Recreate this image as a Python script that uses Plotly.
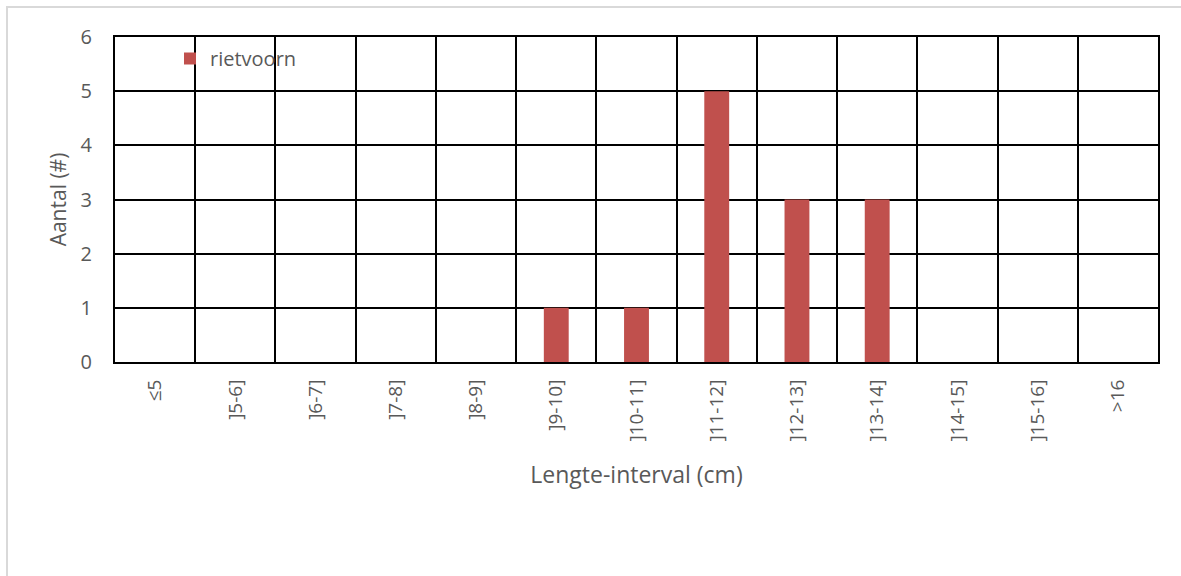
import plotly.graph_objects as go

categories = ["≤5", "]5-6]", "]6-7]", "]7-8]", "]8-9]", "]9-10]", "]10-11]",
              "]11-12]", "]12-13]", "]13-14]", "]14-15]", "]15-16]", ">16"]
rietvoorn = [0, 0, 0, 0, 0, 1, 1, 5, 3, 3, 0, 0, 0]

W, H = 1181, 576
L, R, T, B = 115, 23, 37, 214
pw, ph = W - L - R, H - T - B

font_family = "Open Sans, Lato, sans-serif"
gray = "#595959"

fig = go.Figure()
fig.add_trace(go.Bar(
    x=categories, y=rietvoorn, name="rietvoorn",
    marker=dict(color="#C0504D", line=dict(width=0)),
    width=0.31,
))

# light outer frame around the chart area
fig.add_shape(type="rect", xref="paper", yref="paper",
              x0=(7 - L) / pw, x1=(W + 10 - L) / pw,
              y0=-(H + 10 - T - ph) / ph, y1=1 + (T - 7) / ph,
              line=dict(color="#D9D9D9", width=2), layer="below")

fig.update_layout(
    width=W, height=H,
    margin=dict(l=L, r=R, t=T, b=B),
    paper_bgcolor="white", plot_bgcolor="white",
    font=dict(family=font_family, color=gray, size=18),
    showlegend=True,
    legend=dict(x=(170 - L) / pw, y=1 - 2 / ph, xanchor="left", yanchor="top",
                bgcolor="rgba(0,0,0,0)", font=dict(size=20, color=gray),
                itemwidth=30),
    bargap=0.69,
)
fig.update_xaxes(
    type="category", tickson="boundaries",
    showgrid=True, gridcolor="black", gridwidth=2,
    showline=True, linecolor="black", linewidth=2, mirror=True,
    ticks="", ticklabelstandoff=8,
    tickangle=-90, tickfont=dict(size=19, color=gray),
    title=dict(text="Lengte-interval (cm)", font=dict(size=23, color=gray), standoff=26),
)
fig.update_yaxes(
    range=[0, 6], dtick=1, tick0=0,
    showgrid=True, gridcolor="black", gridwidth=2,
    zeroline=False,
    showline=True, linecolor="black", linewidth=2, mirror=True,
    ticks="outside", ticklen=17, tickcolor="rgba(0,0,0,0)",
    tickfont=dict(size=20, color=gray),
    title=dict(text="Aantal (#)", font=dict(size=21, color=gray), standoff=8),
)

fig.write_html("out.html")
